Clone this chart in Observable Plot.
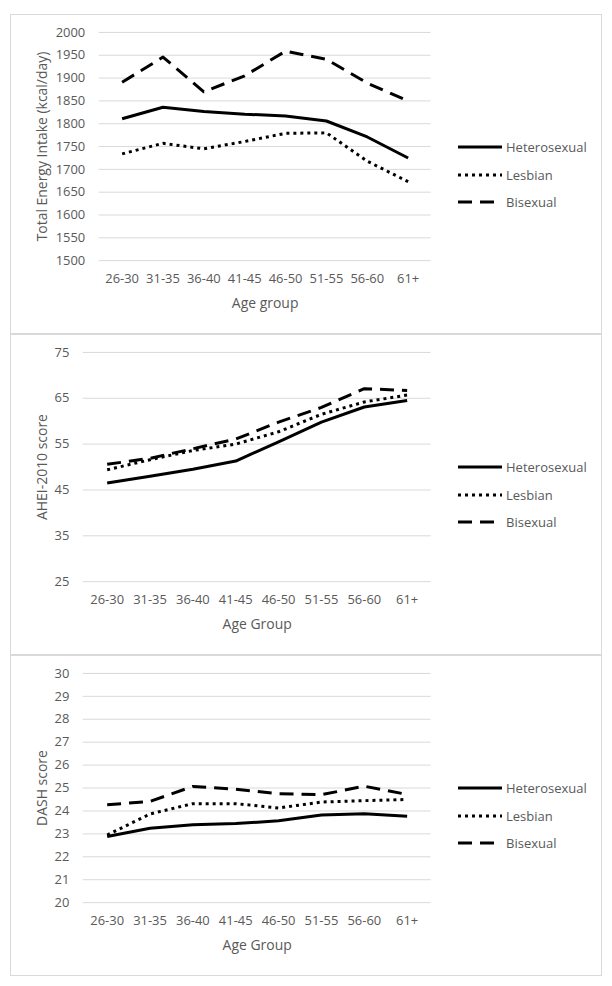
<!DOCTYPE html>
<html>
<head>
<meta charset="utf-8">
<script src="https://cdn.jsdelivr.net/npm/d3@7"></script>
<script src="https://cdn.jsdelivr.net/npm/@observablehq/plot@0.6"></script>
<style>
  html, body { margin: 0; padding: 0; background: #fff; }
  #root { position: relative; width: 612px; height: 986px; background: #fff; font-family: "Open Sans", sans-serif; }
  .panel { position: absolute; left: 10px; width: 592px; box-sizing: border-box; border: 1.5px solid #d9d9d9; background: #fff; }
  .panel svg.plot { position: absolute; left: -1.5px; top: -1.5px; overflow: visible; }
  .legend { position: absolute; left: 446px; }
  .legend .item { position: absolute; left: 0; height: 20px; width: 140px; }
  .legend svg { position: absolute; left: 0; top: 4px; }
  .legend span { position: absolute; left: 49px; top: 0; font-size: 13px; color: #595959; line-height: 20px; white-space: nowrap; }
</style>
</head>
<body>
<div id="root"></div>
<script>
const categories = ["26-30", "31-35", "36-40", "41-45", "46-50", "51-55", "56-60", "61+"];
const groups = ["Heterosexual", "Lesbian", "Bisexual"];

// Panel 1: Total Energy Intake (kcal/day)
const energyHeterosexual = [1811, 1836, 1827, 1821, 1817, 1806, 1771, 1725];
const energyLesbian      = [1734, 1757, 1745, 1761, 1779, 1780, 1718, 1673];
const energyBisexual     = [1891, 1946, 1870, 1905, 1959, 1941, 1889, 1850];
const energyTicks = [1500, 1550, 1600, 1650, 1700, 1750, 1800, 1850, 1900, 1950, 2000];

// Panel 2: AHEI-2010 score
const aheiHeterosexual = [46.5, 48.0, 49.5, 51.3, 55.5, 59.8, 63.1, 64.5];
const aheiLesbian      = [49.4, 51.6, 53.6, 55.0, 57.7, 61.5, 64.2, 65.7];
const aheiBisexual     = [50.6, 51.9, 54.0, 56.1, 59.8, 63.0, 67.1, 66.7];
const aheiTicks = [25, 35, 45, 55, 65, 75];

// Panel 3: DASH score
const dashHeterosexual = [22.89, 23.25, 23.40, 23.45, 23.57, 23.82, 23.88, 23.77];
const dashLesbian      = [22.95, 23.87, 24.32, 24.32, 24.13, 24.39, 24.45, 24.50];
const dashBisexual     = [24.27, 24.42, 25.07, 24.95, 24.75, 24.71, 25.08, 24.72];
const dashTicks = [20, 21, 22, 23, 24, 25, 26, 27, 28, 29, 30];

const styles = {
  Heterosexual: { dash: null, cap: "butt" },
  Lesbian: { dash: "3,4", cap: "butt" },
  Bisexual: { dash: "14,8", cap: "butt" }
};

const panels = [
  { top: 14, height: 320, marginLeft: 89, yTitle: "Total Energy Intake (kcal/day)", xTitle: "Age group",
    domain: [1500, 2000], ticks: energyTicks,
    series: [energyHeterosexual, energyLesbian, energyBisexual] },
  { top: 334, height: 321, marginLeft: 73, yTitle: "AHEI-2010 score", xTitle: "Age Group",
    domain: [25, 75], ticks: aheiTicks,
    series: [aheiHeterosexual, aheiLesbian, aheiBisexual] },
  { top: 655, height: 321, marginLeft: 73, yTitle: "DASH score", xTitle: "Age Group",
    domain: [20, 30], ticks: dashTicks,
    series: [dashHeterosexual, dashLesbian, dashBisexual] }
];

const root = document.getElementById("root");
const textColor = "#595959";

panels.forEach(p => {
  const div = document.createElement("div");
  div.className = "panel";
  div.style.top = p.top + "px";
  div.style.height = p.height + "px";
  root.appendChild(div);

  const lineMarks = groups.map((g, gi) => {
    const rows = categories.map((c, i) => ({ category: c, value: p.series[gi][i] }));
    return Plot.line(rows, {
      x: "category", y: "value", stroke: "black", strokeWidth: 3,
      strokeDasharray: styles[g].dash, strokeLinecap: styles[g].cap, strokeLinejoin: "round"
    });
  });

  const chart = Plot.plot({
    width: 592,
    height: p.height,
    marginLeft: p.marginLeft,
    marginRight: 170,
    marginTop: 18,
    marginBottom: 73,
    style: { fontFamily: "Open Sans, sans-serif", fontSize: "13px", color: textColor, background: "transparent", overflow: "visible" },
    x: { type: "point", domain: categories, padding: 0.5 },
    y: { domain: p.domain },
    marks: [
      Plot.gridY(p.ticks, { stroke: "#d9d9d9", strokeOpacity: 1, strokeWidth: 1 }),
      Plot.axisY(p.ticks, { tickSize: 0, tickPadding: 14, fontSize: 13, fill: textColor, label: null, tickFormat: d => String(d) }),
      Plot.axisX({ tickSize: 0, tickPadding: 13, fontSize: 13, fill: textColor, label: null }),
      ...lineMarks,
      Plot.text([p.xTitle], { frameAnchor: "bottom", dy: 48, fontSize: 14, fill: textColor }),
      Plot.text([p.yTitle], { frameAnchor: "left", dx: -(p.marginLeft - 32), rotate: -90, textAnchor: "middle", fontSize: 14, fill: textColor })
    ]
  });
  chart.classList.add("plot");
  div.appendChild(chart);

  const legend = document.createElement("div");
  legend.className = "legend";
  legend.style.top = "0px";
  div.appendChild(legend);
  const legendTops = [122, 150, 177];
  groups.forEach((g, gi) => {
    const item = document.createElement("div");
    item.className = "item";
    item.style.top = legendTops[gi] + "px";
    const svg = d3.create("svg").attr("width", 46).attr("height", 12);
    svg.append("line").attr("x1", 1).attr("x2", 45).attr("y1", 6).attr("y2", 6)
      .attr("stroke", "black").attr("stroke-width", 3)
      .attr("stroke-dasharray", styles[g].dash)
      .attr("stroke-linecap", styles[g].cap);
    item.appendChild(svg.node());
    const span = document.createElement("span");
    span.textContent = g;
    item.appendChild(span);
    legend.appendChild(item);
  });
});
</script>
</body>
</html>
